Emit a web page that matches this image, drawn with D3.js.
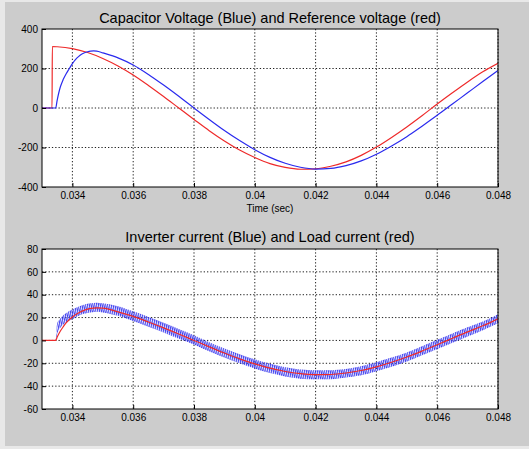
<!DOCTYPE html>
<html><head><meta charset="utf-8">
<script src="https://cdn.jsdelivr.net/npm/d3@7"></script>
<style>body{margin:0;background:#e8e8e8}svg{display:block}text{font-family:"Liberation Sans",Arial,sans-serif;fill:#000}</style>
</head><body>
<script>
// ---- data ----
const xTicks = [0.034,0.036,0.038,0.040,0.042,0.044,0.046,0.048];
const xTickLabels = ["0.034","0.036","0.038","0.04","0.042","0.044","0.046","0.048"];
const vTicks = [-400,-200,0,200,400];
const iTicks = [-60,-40,-20,0,20,40,60,80];

const titleTop = "Capacitor Voltage (Blue) and Reference voltage (red)";
const titleBottom = "Inverter current (Blue) and Load current (red)";
const xLabel = "Time (sec)";

// Reference voltage (red)
const refT = [0.03300,0.03333,0.03334,0.0335,0.0340,0.0345,0.0350,0.0355,0.0360,0.0365,0.0370,0.0375,0.0380,0.0385,0.0390,0.0395,0.0400,0.0405,0.0410,0.0415,0.0420,0.0425,0.0430,0.0435,0.0440,0.0445,0.0450,0.0455,0.0460,0.0465,0.0470,0.0475,0.0480];
const refV = [0,0,311,310,301,281,251,213,167,114,58,0,-58,-115,-167,-213,-251,-282,-301,-310,-308,-295,-273,-240,-198,-149,-96,-39,20,77,132,183,226];

// Capacitor voltage (blue)
const capT = [0.03300,0.03345,0.0335,0.0336,0.0337,0.0338,0.0339,0.0340,0.0341,0.0342,0.0343,0.0344,0.0345,0.0346,0.0347,0.0348,0.0350,0.0355,0.0360,0.0365,0.0370,0.0375,0.0380,0.0385,0.0390,0.0395,0.0400,0.0405,0.0410,0.0415,0.0420,0.0425,0.0430,0.0435,0.0440,0.0445,0.0450,0.0455,0.0460,0.0465,0.0470,0.0475,0.0480];
const capV = [0,0,40,105,145,175,200,225,245,260,272,280,285,288,289,288,279,254,218,170,116,59,0,-58,-114,-165,-211,-250,-280,-300,-309,-306,-292,-268,-234,-192,-145,-92,-37,20,77,134,190];

// Load current (red) and inverter current ripple band (blue)
const curT = [0.03300,0.03345,0.0335,0.0336,0.0337,0.0338,0.0340,0.0342,0.0344,0.0346,0.0348,0.0350,0.0355,0.0360,0.0365,0.0370,0.0375,0.0380,0.0385,0.0390,0.0395,0.0400,0.0405,0.0410,0.0415,0.0420,0.0425,0.0430,0.0435,0.0440,0.0445,0.0450,0.0455,0.0460,0.0465,0.0470,0.0475,0.0480];
const loadI = [0,0,3,8,12,15.5,20.5,24,26.5,28,28.5,28.3,25,21,16.1,11,5.6,0,-5.6,-11,-16.1,-20.5,-24.3,-27.2,-29.1,-30,-29.8,-28.5,-26.3,-23.1,-19.1,-14.5,-9.3,-3.8,1.9,7.5,12.8,19];
const invHi = [0,0,15,19,22,24,27,29.5,31.5,32.5,33,32.5,30,25.5,20.5,15.5,10,4.5,-1.5,-7,-12,-16.5,-20.5,-23.5,-25.5,-26,-26,-25,-22.5,-19,-15,-10.5,-5,0.5,6,11.5,16.5,23];
const invLo = [0,0,6,11,14,16,18.5,21.5,23.5,24.5,25,24.5,21.5,17,12,7,1.5,-3.5,-9.5,-15,-20,-24.5,-28.5,-31.5,-33.5,-34,-34,-32.5,-30.5,-27,-23,-18.5,-13,-7.5,-2,3.5,9,15];

// ---- drawing ----
const W = 529, H = 449;
const svg = d3.select("body").append("svg").attr("width", W).attr("height", H);
svg.append("rect").attr("x",0).attr("y",0).attr("width",W).attr("height",H).attr("fill","#e8e8e8");
svg.append("rect").attr("x",5).attr("y",2).attr("width",W-5).attr("height",444).attr("fill","#cccccc");

const defs = svg.append("defs");
const pat = defs.append("pattern").attr("id","ripple").attr("patternUnits","userSpaceOnUse")
  .attr("width",2.2).attr("height",40).attr("patternTransform","skewX(-12)");
pat.append("line").attr("x1",0.6).attr("x2",0.6).attr("y1",0).attr("y2",40)
  .attr("stroke","#3030ee").attr("stroke-width",1.1);

const L = 42, R = 498;
const x = d3.scaleLinear().domain([0.033,0.048]).range([L,R]);

function panel(top, bottom, yDomain, yTicks, title, titleY, xLabY, withXLabel){
  const y = d3.scaleLinear().domain(yDomain).range([bottom, top]);
  const g = svg.append("g");
  g.append("rect").attr("x",L).attr("y",top).attr("width",R-L).attr("height",bottom-top).attr("fill","#fff");
  // grid
  g.selectAll(".gx").data(xTicks).join("line")
    .attr("x1",d=>x(d)).attr("x2",d=>x(d)).attr("y1",top).attr("y2",bottom)
    .attr("stroke","#222").attr("stroke-width",1).attr("stroke-dasharray","1.3,2");
  g.selectAll(".gy").data(yTicks.filter(d=>d!==yDomain[0]&&d!==yDomain[1])).join("line")
    .attr("x1",L).attr("x2",R).attr("y1",d=>y(d)).attr("y2",d=>y(d))
    .attr("stroke","#222").attr("stroke-width",1).attr("stroke-dasharray","1.3,2");
  const clip = "clip"+top;
  defs.append("clipPath").attr("id",clip).append("rect").attr("x",L).attr("y",top).attr("width",R-L).attr("height",bottom-top);
  const plot = g.append("g").attr("clip-path",`url(#${clip})`);
  // axes
  const xa = g.append("g").attr("transform",`translate(0,${bottom})`)
    .call(d3.axisBottom(x).tickValues(xTicks).tickFormat((d,i)=>xTickLabels[i]).tickSizeInner(-4).tickSizeOuter(0).tickPadding(5));
  const ya = g.append("g").attr("transform",`translate(${L},0)`)
    .call(d3.axisLeft(y).tickValues(yTicks).tickFormat(d=>String(d)).tickSizeInner(-4).tickSizeOuter(0).tickPadding(4));
  [xa,ya].forEach(a=>{a.select(".domain").remove();a.selectAll("line").attr("stroke","#000");
    a.selectAll("text").attr("font-size",10).attr("font-family","Liberation Sans, Arial, sans-serif").attr("fill","#000");});
  g.append("rect").attr("x",L).attr("y",top).attr("width",R-L).attr("height",bottom-top)
    .attr("fill","none").attr("stroke","#000").attr("stroke-width",1);
  g.append("text").attr("x",(L+R)/2).attr("y",titleY).attr("text-anchor","middle").attr("font-size",14.5).text(title);
  if(withXLabel) g.append("text").attr("x",(L+R)/2).attr("y",xLabY).attr("text-anchor","middle").attr("font-size",10).text(xLabel);
  return {y, plot};
}

// Top panel
const p1 = panel(29, 187, [-400,400], vTicks, titleTop, 23, 212, true);
const line1 = d3.line().x(d=>x(d[0])).y(d=>p1.y(d[1])).curve(d3.curveMonotoneX);
p1.plot.append("path").datum(refT.map((t,i)=>[t,refV[i]])).attr("d",line1)
  .attr("fill","none").attr("stroke","#ee2a2a").attr("stroke-width",1.2);
p1.plot.append("path").datum(capT.map((t,i)=>[t,capV[i]])).attr("d",line1)
  .attr("fill","none").attr("stroke","#2a2aee").attr("stroke-width",1.2);

// Bottom panel
const p2 = panel(249, 409, [-60,80], iTicks, titleBottom, 242, 0, false);
const area2 = d3.area().x(d=>x(d[0])).y0(d=>p2.y(d[2])).y1(d=>p2.y(d[1])).curve(d3.curveMonotoneX);
const band = curT.map((t,i)=>[t,invHi[i],invLo[i]]);
p2.plot.append("path").datum(band).attr("d",area2).attr("fill","url(#ripple)").attr("stroke","none");
p2.plot.append("path").datum(band).attr("d",area2).attr("fill","#4848f0").attr("opacity",0.15);
const line2 = d3.line().x(d=>x(d[0])).y(d=>p2.y(d[1])).curve(d3.curveMonotoneX);
p2.plot.append("path").datum(curT.map((t,i)=>[t,loadI[i]])).attr("d",line2)
  .attr("fill","none").attr("stroke","#ee2a2a").attr("stroke-width",1.2);
</script>
</body></html>
